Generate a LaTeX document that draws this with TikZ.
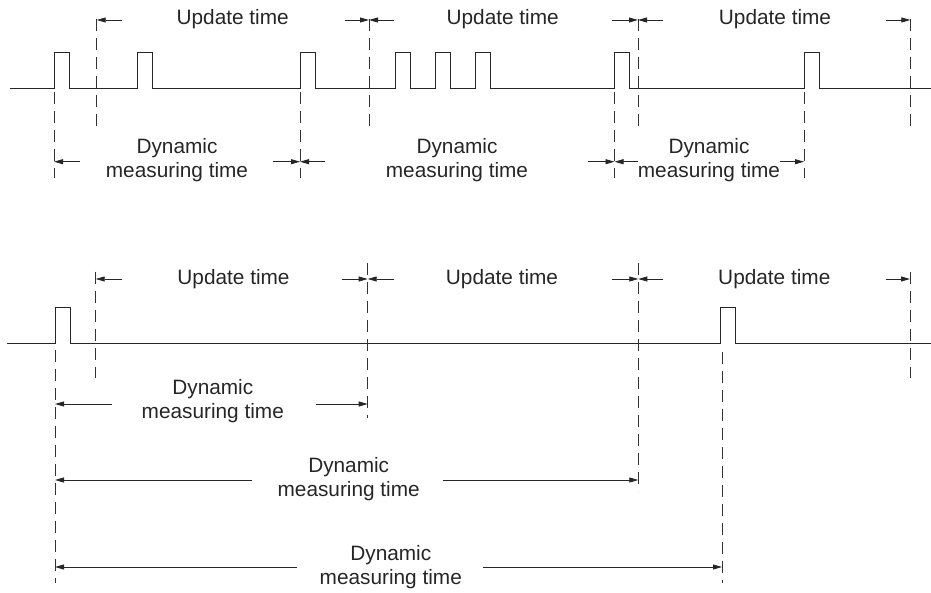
\documentclass[tikz,border=0pt]{standalone}
\usepackage{fontspec}
\setmainfont{Liberation Sans}
\usetikzlibrary{arrows.meta}
\begin{document}
\begin{tikzpicture}[x=1pt,y=-1pt,
  sig/.style={line width=1pt,draw=black!85},
  guide/.style={line width=0.9pt,draw=black!80,dash pattern=on 12pt off 7pt},
  dimarrow/.style={line width=0.8pt,draw=black!85,-{Triangle[length=9pt,width=5pt]}},
  lbl/.style={font=\fontsize{20.8}{24.5}\selectfont,align=center,inner sep=0pt,text=black!85}]
\useasboundingbox (0,0) rectangle (931,593);

% ---------------- top row ----------------
\draw[sig] (10,89) foreach \p in {54,137.7,300,395.7,435,475.7,614.5,804}
  { -- (\p,89) -- (\p,53) -- ++(15,0) -- ++(0,36) } -- (931,89);

% update-time guides
\coordinate (TU1t) at (96.7,19);  \coordinate (TU1b) at (96.7,128);
\coordinate (TU2t) at (369,19);   \coordinate (TU2b) at (369,128);
\coordinate (TU3t) at (638,19);   \coordinate (TU3b) at (638,128);
\coordinate (TU4t) at (910.3,19); \coordinate (TU4b) at (910.3,128);
\foreach \g in {TU1,TU2,TU3,TU4} \draw[guide] (\g t) -- (\g b);
% dynamic guides
\coordinate (TD1t) at (54,92);    \coordinate (TD1b) at (54,178);
\coordinate (TD2t) at (300,92);   \coordinate (TD2b) at (300,178);
\coordinate (TD3t) at (614.5,92); \coordinate (TD3b) at (614.5,178);
\coordinate (TD4t) at (804,92);   \coordinate (TD4b) at (804,178);
\foreach \g in {TD1,TD2,TD3,TD4} \draw[guide] (\g t) -- (\g b);

% update arrows (y = 20)
\coordinate (tua1) at (96.7,20);  \coordinate (tua1s) at (121.7,20);
\coordinate (tua2) at (369,20);   \coordinate (tua2l) at (345,20); \coordinate (tua2r) at (394,20);
\coordinate (tua3) at (638,20);   \coordinate (tua3l) at (612,20); \coordinate (tua3r) at (663,20);
\coordinate (tua4) at (910.3,20); \coordinate (tua4s) at (886,20);
\draw[dimarrow] (tua1s) -- (tua1);
\draw[dimarrow] (tua2l) -- (tua2);
\draw[dimarrow] (tua2r) -- (tua2);
\draw[dimarrow] (tua3l) -- (tua3);
\draw[dimarrow] (tua3r) -- (tua3);
\draw[dimarrow] (tua4s) -- (tua4);

% dynamic arrows (y = 161.7)
\coordinate (tda1) at (54,161.7);    \coordinate (tda1s) at (80,161.7);
\coordinate (tda2) at (300,161.7);   \coordinate (tda2l) at (273,161.7); \coordinate (tda2r) at (325,161.7);
\coordinate (tda3) at (614.5,161.7); \coordinate (tda3l) at (588,161.7); \coordinate (tda3r) at (638,161.7);
\coordinate (tda4) at (804,161.7);   \coordinate (tda4s) at (780,161.7);
\draw[dimarrow] (tda1s) -- (tda1);
\draw[dimarrow] (tda2l) -- (tda2);
\draw[dimarrow] (tda2r) -- (tda2);
\draw[dimarrow] (tda3l) -- (tda3);
\draw[dimarrow] (tda3r) -- (tda3);
\draw[dimarrow] (tda4s) -- (tda4);

\node[lbl] (tut1) at (232.7,19.5) {Update time};
\node[lbl] (tut2) at (502.7,19.5) {Update time};
\node[lbl] (tut3) at (775,19.5) {Update time};
\node[lbl] (tdt1) at (177,160) {Dynamic\\measuring time};
\node[lbl] (tdt2) at (457,160) {Dynamic\\measuring time};
\node[lbl] (tdt3) at (709,160) {Dynamic\\measuring time};

% ---------------- bottom row ----------------
\draw[sig] (7.3,343.3) foreach \p in {55,720.7}
  { -- (\p,343.3) -- (\p,307.3) -- ++(15,0) -- ++(0,36) } -- (931,343.3);

\coordinate (BU1t) at (95.7,271.7); \coordinate (BU1b) at (95.7,378);
\coordinate (BU2t) at (367.7,263);  \coordinate (BU2b) at (367.7,418);
\coordinate (BU3t) at (638.3,263);  \coordinate (BU3b) at (638.3,491);
\coordinate (BU4t) at (910,271.7);  \coordinate (BU4b) at (910,378);
\foreach \g in {BU1,BU2,BU3,BU4} \draw[guide] (\g t) -- (\g b);
\coordinate (BD1t) at (55,350); \coordinate (BD1b) at (55,583);
\coordinate (BD2t) at (722,352); \coordinate (BD2b) at (722,583);
\foreach \g in {BD1,BD2} \draw[guide] (\g t) -- (\g b);

% update arrows (y = 279)
\coordinate (bua1) at (95.7,279);  \coordinate (bua1s) at (121.7,279);
\coordinate (bua2) at (367.7,279); \coordinate (bua2l) at (341.7,279); \coordinate (bua2r) at (394,279);
\coordinate (bua3) at (638.3,279); \coordinate (bua3l) at (612.3,279); \coordinate (bua3r) at (663.3,279);
\coordinate (bua4) at (910,279);   \coordinate (bua4s) at (886,279);
\draw[dimarrow] (bua1s) -- (bua1);
\draw[dimarrow] (bua2l) -- (bua2);
\draw[dimarrow] (bua2r) -- (bua2);
\draw[dimarrow] (bua3l) -- (bua3);
\draw[dimarrow] (bua3r) -- (bua3);
\draw[dimarrow] (bua4s) -- (bua4);

% dynamic arrows
\coordinate (bd1l) at (55,404);  \coordinate (bd1ls) at (111.7,404);
\coordinate (bd1r) at (367.7,404); \coordinate (bd1rs) at (316,404);
\coordinate (bd2l) at (55,480);  \coordinate (bd2ls) at (251.7,480);
\coordinate (bd2r) at (638.3,480); \coordinate (bd2rs) at (442.7,480);
\coordinate (bd3l) at (55,567);  \coordinate (bd3ls) at (297.3,567);
\coordinate (bd3r) at (722,567); \coordinate (bd3rs) at (483,567);
\draw[dimarrow] (bd1ls) -- (bd1l);
\draw[dimarrow] (bd1rs) -- (bd1r);
\draw[dimarrow] (bd2ls) -- (bd2l);
\draw[dimarrow] (bd2rs) -- (bd2r);
\draw[dimarrow] (bd3ls) -- (bd3l);
\draw[dimarrow] (bd3rs) -- (bd3r);

\node[lbl] (but1) at (233.5,279) {Update time};
\node[lbl] (but2) at (502,279) {Update time};
\node[lbl] (but3) at (774.3,279) {Update time};
\node[lbl] (bdt1) at (212.8,401) {Dynamic\\measuring time};
\node[lbl] (bdt2) at (348.7,479) {Dynamic\\measuring time};
\node[lbl] (bdt3) at (390.8,567) {Dynamic\\measuring time};
\end{tikzpicture}
\end{document}
